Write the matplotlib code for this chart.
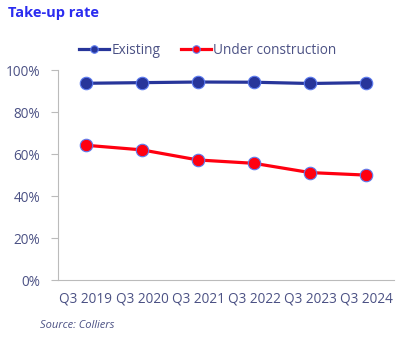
import matplotlib.pyplot as plt
from matplotlib.ticker import FuncFormatter

plt.rcParams['font.family'] = ['Open Sans', 'DejaVu Sans']

quarters = ['Q3 2019', 'Q3 2020', 'Q3 2021', 'Q3 2022', 'Q3 2023', 'Q3 2024']
existing = [93.7, 94.0, 94.3, 94.2, 93.6, 94.0]
under_construction = [64.2, 62.0, 57.2, 55.6, 51.2, 50.0]

text_col = '#4b5184'
fig = plt.figure(figsize=(4.08, 3.40), dpi=100)
ax = fig.add_axes([0.142, 0.176, 0.824, 0.618])

x = range(len(quarters))
ax.plot(x, existing, color='#27359a', lw=2.3, marker='o', ms=9,
        mfc='#27359a', mec='#5d7cf0', mew=0.8, label='Existing')
ax.plot(x, under_construction, color='#ff0010', lw=2.3, marker='o', ms=9,
        mfc='#ff0010', mec='#5d7cf0', mew=0.8, label='Under construction')

ax.set_xlim(-0.5, len(quarters) - 0.5)
ax.set_ylim(0, 100)
ax.set_yticks(range(0, 101, 20))
ax.yaxis.set_major_formatter(FuncFormatter(lambda v, p: f'{v:.0f}%'))
ax.set_xticks(list(x))
ax.set_xticklabels(quarters)
ax.tick_params(axis='x', length=0, pad=8, labelsize=9.8, colors=text_col)
ax.tick_params(axis='y', length=5, width=0.8, pad=8,
               labelsize=9.8, colors=text_col)
ax.tick_params(axis='y', color='#bbbbbb')
for s in ['top', 'right']:
    ax.spines[s].set_visible(False)
for s in ['left', 'bottom']:
    ax.spines[s].set_color('#bbbbbb')
    ax.spines[s].set_linewidth(0.8)

leg = ax.legend(loc='lower center', bbox_to_anchor=(0.445, 1.0), ncol=2,
                frameon=False, fontsize=9.8, handlelength=2.2,
                handletextpad=0.15, columnspacing=1.5, markerscale=0.6)
for t in leg.get_texts():
    t.set_color(text_col)

fig.text(0.02, 0.962, 'Take-up rate', color='#2b2cf0', fontsize=10.5,
         fontweight='bold', va='center')
fig.text(0.098, 0.043, 'Source: Colliers', color=text_col, fontsize=8,
         style='italic', va='center')

fig.savefig('out.png', dpi=100)
